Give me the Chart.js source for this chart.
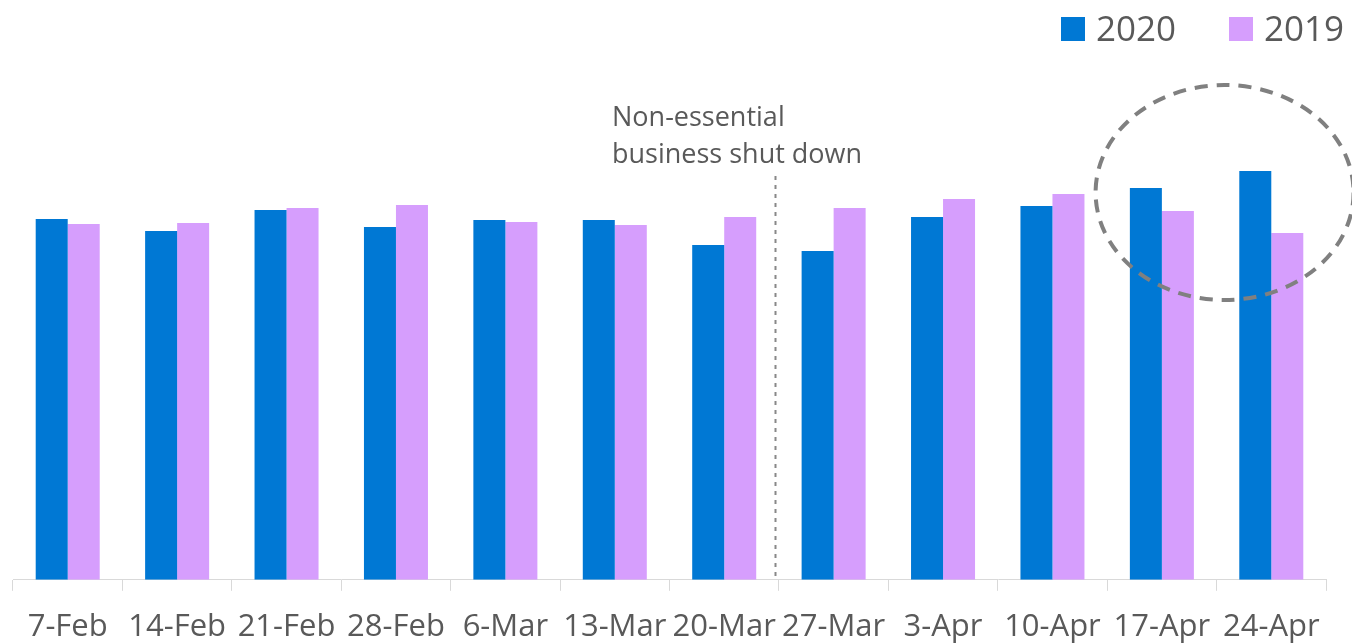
<!DOCTYPE html>
<html>
<head>
<meta charset="utf-8">
<script src="https://cdn.jsdelivr.net/npm/chart.js@4"></script>
<style>
  html, body { margin: 0; padding: 0; background: #fff; }
  #wrap { width: 1352px; height: 644px; }
</style>
</head>
<body>
<div id="wrap"><canvas id="grafico"></canvas></div>
<script>
// settimane
var settimane = ['7-Feb', '14-Feb', '21-Feb', '28-Feb', '6-Mar', '13-Mar', '20-Mar',
                 '27-Mar', '3-Apr', '10-Apr', '17-Apr', '24-Apr'];
// valori (unita' relative)
var valori_2020 = [361, 349, 370, 353, 360, 360, 335, 329, 363, 374, 392, 409];
var valori_2019 = [356, 357, 372, 375, 358, 355, 363, 372, 381, 386, 369, 347];
var nota_testo = ['Non-essential', 'business shut down'];
var indice_chiusura = 6; // la linea cade tra 20-Mar e 27-Mar

var grigio_testo = '#595959';
var font_base = '"Open Sans", "Noto Sans", sans-serif';

// plugin per nota, linea tratteggiata, ellisse e legenda
var plugin_extra = {
  id: 'extra',
  afterDraw: function(chart) {
    var ctx = chart.ctx;
    var x = chart.scales.x;
    var area = chart.chartArea;

    // linea verticale tratteggiata
    var passo = x.getPixelForValue(indice_chiusura + 1) - x.getPixelForValue(indice_chiusura);
    var lx = Math.round(x.getPixelForValue(indice_chiusura) + passo * 0.46) + 0.5;
    ctx.save();
    ctx.strokeStyle = '#888888';
    ctx.lineWidth = 2;
    ctx.setLineDash([4, 5]);
    ctx.beginPath();
    ctx.moveTo(lx, 176);
    ctx.lineTo(lx, area.bottom);
    ctx.stroke();
    ctx.restore();

    // testo della nota
    ctx.save();
    ctx.fillStyle = grigio_testo;
    ctx.font = '27px ' + font_base;
    ctx.textAlign = 'left';
    ctx.textBaseline = 'alphabetic';
    ctx.fillText(nota_testo[0], 612, 126);
    ctx.fillText(nota_testo[1], 612, 163);
    ctx.restore();

    // ellisse tratteggiata sulle ultime due settimane
    var cx = (x.getPixelForValue(10) + x.getPixelForValue(11)) / 2 + 8;
    ctx.save();
    ctx.strokeStyle = '#808080';
    ctx.lineWidth = 4;
    ctx.setLineDash([13, 9]);
    ctx.beginPath();
    ctx.ellipse(cx, 192.5, 129, 107.5, 0, 0, Math.PI * 2);
    ctx.stroke();
    ctx.restore();

    // legenda
    var ds = chart.data.datasets;
    var pos_box = [1061, 1229];
    ctx.save();
    ctx.font = '35px ' + font_base;
    ctx.textBaseline = 'alphabetic';
    for (var i = 0; i < ds.length; i++) {
      ctx.fillStyle = ds[i].backgroundColor;
      ctx.fillRect(pos_box[i], 17, 24, 24);
      ctx.fillStyle = grigio_testo;
      ctx.fillText(ds[i].label, pos_box[i] + 35, 41);
    }
    ctx.restore();
  }
};

var ctx = document.getElementById('grafico').getContext('2d');
var chart = new Chart(ctx, {
  type: 'bar',
  data: {
    labels: settimane,
    datasets: [{
      label: '2020',
      data: valori_2020,
      backgroundColor: '#0078d4',
      borderWidth: 0
    }, {
      label: '2019',
      data: valori_2019,
      backgroundColor: '#d69efd',
      borderWidth: 0
    }]
  },
  options: {
    responsive: true,
    maintainAspectRatio: false,
    animation: false,
    // padding sotto negativo: chart.js conta due volte il padding dei tick
    layout: { padding: { left: 13, right: 26, top: 60, bottom: -20 } },
    datasets: {
      bar: { categoryPercentage: 0.585, barPercentage: 1 }
    },
    plugins: {
      legend: { display: false },
      tooltip: { enabled: false }
    },
    scales: {
      x: {
        offset: true,
        grid: {
          offset: true,
          drawOnChartArea: false,
          drawTicks: true,
          tickLength: 11,
          color: '#d9d9d9'
        },
        border: { display: true, color: '#d9d9d9', width: 1 },
        ticks: {
          autoSkip: false,
          maxRotation: 0,
          minRotation: 0,
          padding: 18,
          color: grigio_testo,
          font: { family: font_base, size: 31, lineHeight: 1.2 }
        }
      },
      y: {
        display: false,
        min: 0,
        max: 520
      }
    }
  },
  plugins: [plugin_extra]
});
</script>
</body>
</html>
